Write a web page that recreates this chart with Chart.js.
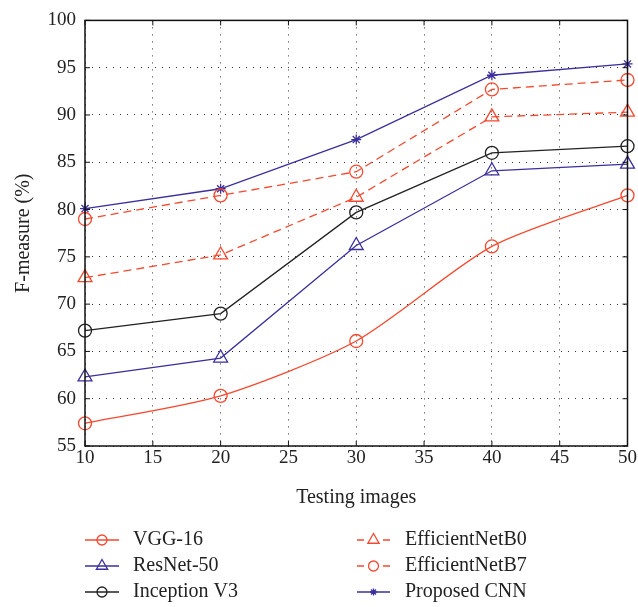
<!DOCTYPE html>
<html>
<head>
<meta charset="utf-8">
<script src="https://cdn.jsdelivr.net/npm/chart.js@4/dist/chart.umd.min.js"></script>
<style>
  html, body { margin: 0; padding: 0; background: #fff; }
  #wrap { width: 638px; height: 607px; }
</style>
</head>
<body>
<div id="wrap"><canvas id="fChart" width="638" height="607"></canvas></div>
<script>
const testingImages = [10, 20, 30, 40, 50];
const vgg16 = [57.4, 60.3, 66.1, 76.1, 81.5];
const resnet50 = [62.3, 64.3, 76.2, 84.1, 84.8];
const inceptionV3 = [67.2, 69.0, 79.7, 86.0, 86.7];
const efficientB0 = [72.8, 75.2, 81.3, 89.8, 90.3];
const efficientB7 = [79.0, 81.5, 84.0, 92.7, 93.7];
const proposedCnn = [80.1, 82.2, 87.4, 94.2, 95.4];
const xTicks = [10, 15, 20, 25, 30, 35, 40, 45, 50];
const yTicks = [55, 60, 65, 70, 75, 80, 85, 90, 95, 100];

const RED = "#f5492f";
const BLUE = "#3a2f9c";
const BLACK = "#222222";
const SERIF = "'Liberation Serif', 'DejaVu Serif', serif";

// marker sizes per style (plot / legend)
const markerSize = { circle: 6.5, triangle: 8, star: 5 };
const legendSize = { circle: 5, triangle: 6.5, star: 3.5 };

function series(label, values, color, marker, dashed) {
  return {
    label: label,
    data: testingImages.map((x, i) => ({ x: x, y: values[i] })),
    borderColor: color,
    backgroundColor: "rgba(0,0,0,0)",
    borderWidth: 1.3,
    borderDash: dashed ? [8, 5] : [],
    pointStyle: marker,
    pointRadius: markerSize[marker],
    pointBorderColor: color,
    pointBorderWidth: 1.3,
    pointBackgroundColor: "rgba(0,0,0,0)",
    tension: 0,
    clip: false,
  };
}

const datasets = [
  series("VGG-16", vgg16, RED, "circle", false),
  series("ResNet-50", resnet50, BLUE, "triangle", false),
  series("Inception V3", inceptionV3, BLACK, "circle", false),
  series("EfficientNetB0", efficientB0, RED, "triangle", true),
  series("EfficientNetB7", efficientB7, RED, "circle", true),
  series("Proposed CNN", proposedCnn, BLUE, "star", false),
];
datasets[0].tension = 0.25; // the VGG-16 curve is smoothed in the original

// frame + inward ticks on all four sides
const frameTicks = {
  id: "frameTicks",
  afterDraw(chart) {
    const { ctx, chartArea: a, scales } = chart;
    ctx.save();
    ctx.strokeStyle = "#111";
    ctx.lineWidth = 1.5;
    ctx.strokeRect(a.left, a.top, a.right - a.left, a.bottom - a.top);
    ctx.lineWidth = 1;
    const len = 5;
    xTicks.forEach((v) => {
      const px = scales.x.getPixelForValue(v);
      ctx.beginPath();
      ctx.moveTo(px, a.bottom); ctx.lineTo(px, a.bottom - len);
      ctx.moveTo(px, a.top); ctx.lineTo(px, a.top + len);
      ctx.stroke();
    });
    yTicks.forEach((v) => {
      const py = scales.y.getPixelForValue(v);
      ctx.beginPath();
      ctx.moveTo(a.left, py); ctx.lineTo(a.left + len, py);
      ctx.moveTo(a.right, py); ctx.lineTo(a.right - len, py);
      ctx.stroke();
    });
    ctx.restore();
  },
};

// two-column legend under the plot
const bottomLegend = {
  id: "bottomLegend",
  afterDraw(chart) {
    const ctx = chart.ctx;
    const cols = [{ x0: 85, x1: 119, tx: 133 }, { x0: 357, x1: 390, tx: 405 }];
    const rows = [540, 566, 592];
    ctx.save();
    chart.data.datasets.forEach((ds, i) => {
      const c = cols[Math.floor(i / 3)];
      const y = rows[i % 3];
      const mid = (c.x0 + c.x1) / 2;
      ctx.strokeStyle = ds.borderColor;
      ctx.lineWidth = 1.3;
      ctx.beginPath();
      if (ds.borderDash.length) {
        ctx.moveTo(c.x0, y); ctx.lineTo(c.x0 + 7, y);
        ctx.moveTo(c.x1 - 7, y); ctx.lineTo(c.x1, y);
      } else {
        ctx.moveTo(c.x0, y); ctx.lineTo(c.x1, y);
      }
      ctx.stroke();
      ctx.fillStyle = "rgba(0,0,0,0)";
      Chart.helpers.drawPoint(ctx, {
        pointStyle: ds.pointStyle,
        radius: legendSize[ds.pointStyle],
        rotation: 0,
        borderWidth: 1.3,
      }, mid, y);
      ctx.fillStyle = "#222";
      ctx.font = "20px " + SERIF;
      ctx.textAlign = "left";
      ctx.textBaseline = "middle";
      ctx.fillText(ds.label, c.tx, y);
    });
    ctx.restore();
  },
};

const ctx = document.getElementById("fChart").getContext("2d");
new Chart(ctx, {
  type: "line",
  data: { datasets: datasets },
  plugins: [frameTicks, bottomLegend],
  options: {
    responsive: false,
    animation: false,
    layout: { padding: { top: 20, right: 6, bottom: 97, left: 0 } },
    plugins: { legend: { display: false }, tooltip: { enabled: false } },
    scales: {
      x: {
        type: "linear",
        min: 10,
        max: 50,
        afterBuildTicks: (s) => { s.ticks = xTicks.map((v) => ({ value: v })); },
        afterFit: (s) => { s.height = 64; },
        grid: { color: "#333", lineWidth: 1, drawTicks: false },
        border: { display: false, dash: [1, 6] },
        ticks: { color: "#222", font: { family: SERIF, size: 19 }, padding: 1 },
        title: {
          display: true,
          text: "Testing images",
          color: "#222",
          font: { family: SERIF, size: 20 },
          padding: { top: 4, bottom: 0 },
        },
      },
      y: {
        min: 55,
        max: 100,
        afterBuildTicks: (s) => { s.ticks = yTicks.map((v) => ({ value: v })); },
        afterFit: (s) => { s.width = 85; },
        grid: { color: "#333", lineWidth: 1, drawTicks: false },
        border: { display: false, dash: [1, 6] },
        ticks: { color: "#222", font: { family: SERIF, size: 19 }, padding: 9 },
        title: {
          display: true,
          text: "F-measure (%)",
          color: "#222",
          font: { family: SERIF, size: 20 },
          padding: { top: 12, bottom: 4 },
        },
      },
    },
  },
});
</script>
</body>
</html>
